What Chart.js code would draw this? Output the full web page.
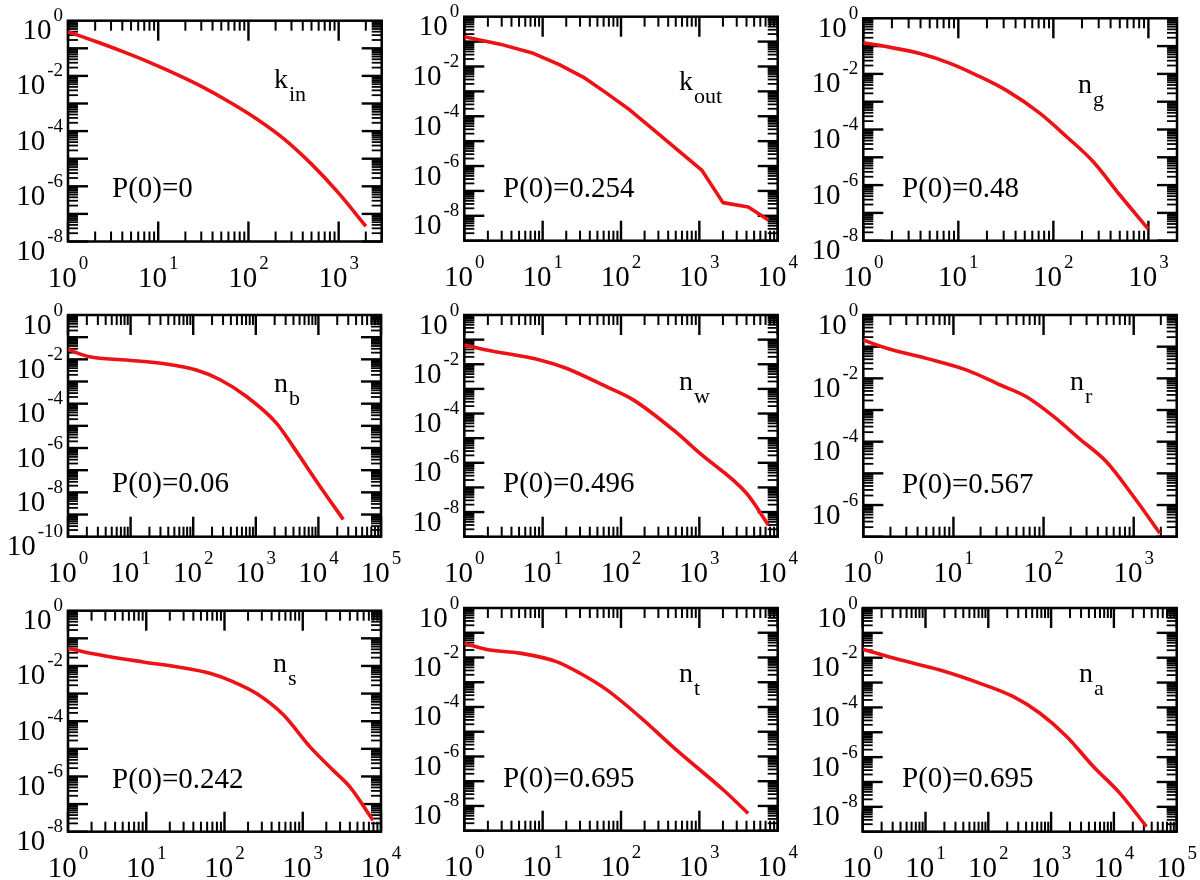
<!DOCTYPE html>
<html>
<head>
<meta charset="utf-8">
<script src="https://cdn.jsdelivr.net/npm/chart.js@4.4.1/dist/chart.umd.min.js"></script>
<style>
  html, body { margin: 0; padding: 0; background: #fff; }
  #wrap { position: relative; width: 1200px; height: 880px; overflow: hidden; }
  #wrap canvas { position: absolute; left: 0; top: 0; }
</style>
</head>
<body>
<div id="wrap"></div>
<script>
// distributions, one x/y pair per panel
const kinX = [1, 2, 4, 8, 16, 32, 63, 126, 251, 501, 1000, 2000];
const kinY = [0.398, 0.18, 0.0774, 0.0311, 0.0114, 3.78e-3, 1.09e-3, 2.65e-4, 5.05e-5, 6.35e-6, 5.66e-7, 3.57e-8];
const koutX = [1, 2.86, 7.6, 16.6, 34.7, 66, 130, 257, 513, 1072, 2000, 4217, 7586];
const koutY = [0.158, 0.079, 0.0339, 0.0115, 3.39e-3, 8.3e-4, 1.78e-4, 2.95e-5, 4.79e-6, 6.9e-7, 3.39e-8, 2.24e-8, 6.76e-9];
const ngX = [1, 1.62, 3.95, 8.18, 15.5, 32.4, 72.4, 138, 263, 501, 1000];
const ngY = [0.132, 0.1, 0.0537, 0.024, 9.1e-3, 2.5e-3, 3.8e-4, 5.5e-5, 6.9e-6, 4.4e-7, 2.6e-8];
const nbX = [1, 2.2, 8.6, 37, 112, 270, 710, 2150, 4000, 10700, 25000];
const nbY = [0.028, 0.013, 9.3e-3, 6.2e-3, 3.3e-3, 1.2e-3, 2.1e-4, 1.3e-5, 1.1e-6, 1.8e-8, 6e-10];
const nwX = [1, 1.93, 9.2, 20, 66, 145, 470, 1020, 4000, 7600];
const nwY = [0.06, 0.038, 0.015, 6.9e-3, 1.2e-3, 3.5e-4, 2.1e-5, 2.4e-6, 5.8e-8, 3e-9];
const nrX = [1, 1.82, 5.0, 14.1, 33.1, 64.6, 129, 251, 501, 1000, 1950];
const nrY = [0.162, 0.089, 0.0427, 0.0182, 6.17e-3, 2.63e-3, 6.3e-4, 1.23e-4, 2.29e-5, 1.82e-6, 1.29e-7];
const nsX = [1, 1.94, 9.1, 24.6, 65, 128, 257, 565, 1230, 2450, 4000, 7900];
const nsY = [0.044, 0.029, 0.014, 9.3e-3, 5.4e-3, 2.7e-3, 1e-3, 1.7e-4, 1.2e-5, 1.66e-6, 4.2e-7, 2.6e-8];
const ntX = [1, 1.93, 5.1, 15, 30, 66, 174, 513, 2030, 4200];
const ntY = [0.037, 0.021, 0.015, 6.8e-3, 2.3e-3, 4.9e-4, 4e-5, 1.8e-6, 4.4e-8, 5e-9];
const naX = [1, 3.9, 17, 74, 251, 665, 1780, 4700, 12500, 33000];
const naY = [0.022, 8.2e-3, 3.2e-3, 9.3e-4, 2.7e-4, 5.8e-5, 6.6e-6, 4.2e-7, 3.5e-8, 1.6e-9];

const seriesX = [kinX, koutX, ngX, nbX, nwX, nrX, nsX, ntX, naX];
const seriesY = [kinY, koutY, ngY, nbY, nwY, nrY, nsY, ntY, naY];
const labelMain = ['k', 'k', 'n', 'n', 'n', 'n', 'n', 'n', 'n'];
const labelSub = ['in', 'out', 'g', 'b', 'w', 'r', 's', 't', 'a'];
const p0Values = ['0', '0.254', '0.48', '0.06', '0.496', '0.567', '0.242', '0.695', '0.695'];
const xMax = [3000, 1e4, 2000, 1e5, 1e4, 3000, 1e4, 1e4, 1e5];
const yMin = [1e-8, 1e-9, 1e-8, 1e-10, 1e-9, 1e-7, 1e-8, 1e-9, 1e-9];

// layout: plot boxes [left, top, right, bottom] and text anchors in page pixels
const boxes = [
  [68, 20.7, 381.7, 241.5], [464.3, 16.7, 777.7, 240.7], [863.3, 18.3, 1177, 240.7],
  [68, 315, 381, 536.7], [464.3, 315, 777.7, 536.7], [863.3, 315, 1176.7, 536.7],
  [68, 610.7, 381, 831.7], [464.3, 608, 777.7, 830.7], [862.7, 608, 1176.7, 831.7]
];
const namePos = [[274, 88], [679, 90], [1078, 93], [274, 392], [679, 390], [1070, 390], [273, 672], [679, 682], [1079, 682]];
const p0Pos = [[112, 197], [503, 197], [902, 197], [112, 492], [503, 492], [902, 493], [112, 788], [503, 787], [902, 787]];
// k_out has a sharp knee, keep it as straight segments
const smoothLine = [true, false, true, true, true, true, true, true, true];

const SERIF = '"Liberation Serif", "Times New Roman", "DejaVu Serif", serif';
const RED = 'rgb(236, 18, 22)';

function pow10(ctx, x, y, exp, align) {
  ctx.font = '29px ' + SERIF;
  const w1 = ctx.measureText('10').width;
  ctx.font = '19px ' + SERIF;
  const w2 = ctx.measureText(exp).width;
  const total = w1 + 2 + w2;
  const x0 = align === 'center' ? x - total / 2 : x - total;
  ctx.textAlign = 'left';
  ctx.textBaseline = 'alphabetic';
  ctx.font = '29px ' + SERIF;
  ctx.fillText('10', x0, y);
  ctx.font = '19px ' + SERIF;
  ctx.fillText(exp, x0 + w1 + 2, y - 18);
}

function tickLine(ctx, x1, y1, x2, y2) {
  ctx.beginPath();
  ctx.moveTo(x1, y1);
  ctx.lineTo(x2, y2);
  ctx.stroke();
}

function makeAxesPlugin(i) {
  return {
    id: 'gracebox' + i,
    beforeDatasetsDraw(chart) {
      const { ctx, chartArea: a, scales: { x, y } } = chart;
      ctx.save();
      ctx.strokeStyle = '#000';
      ctx.lineCap = 'butt';
      for (let e = 0; e <= Math.ceil(Math.log10(x.max)); e++) {
        for (let m = 1; m <= 9; m++) {
          const v = m * Math.pow(10, e);
          if (v > x.max * 1.001) continue;
          const px = x.getPixelForValue(v);
          const len = m === 1 ? 20 : 10;
          ctx.lineWidth = m === 1 ? 2.4 : 2;
          tickLine(ctx, px, a.bottom, px, a.bottom - len);
          tickLine(ctx, px, a.top, px, a.top + len);
        }
      }
      for (let e = Math.floor(Math.log10(y.min)); e < 0; e++) {
        for (let m = 1; m <= 9; m++) {
          const v = m * Math.pow(10, e);
          if (v < y.min * 0.999) continue;
          const py = y.getPixelForValue(v);
          const len = m === 1 ? 20 : 10;
          ctx.lineWidth = m === 1 ? 2.4 : 1.8;
          tickLine(ctx, a.left, py, a.left + len, py);
          tickLine(ctx, a.right, py, a.right - len, py);
        }
      }
      ctx.lineWidth = 2.5;
      ctx.strokeRect(a.left, a.top, a.right - a.left, a.bottom - a.top);
      ctx.restore();
    },
    afterDraw(chart) {
      const { ctx, chartArea: a, scales: { x, y } } = chart;
      ctx.save();
      ctx.fillStyle = '#000';
      for (let e = 0; Math.pow(10, e) <= x.max * 1.001; e++) {
        pow10(ctx, x.getPixelForValue(Math.pow(10, e)), a.bottom + 45, String(e), 'center');
      }
      for (let e = 0; Math.pow(10, e) >= y.min * 0.999; e -= 2) {
        pow10(ctx, a.left - 5, y.getPixelForValue(Math.pow(10, e)) + 18.5, e === 0 ? '0' : '-' + (-e), 'right');
      }
      // panel name with subscript
      ctx.textAlign = 'left';
      ctx.font = '28px ' + SERIF;
      const [nx, ny] = namePos[i];
      ctx.fillText(labelMain[i], nx, ny);
      const wm = ctx.measureText(labelMain[i]).width;
      ctx.font = '22px ' + SERIF;
      ctx.fillText(labelSub[i], nx + wm + 1, ny + 13);
      ctx.font = '29px ' + SERIF;
      ctx.fillText('P(0)=' + p0Values[i], p0Pos[i][0], p0Pos[i][1]);
      ctx.restore();
    }
  };
}

const wrap = document.getElementById('wrap');
for (let i = 0; i < 9; i++) {
  const cv = document.createElement('canvas');
  cv.width = 1200;
  cv.height = 880;
  cv.style.width = '1200px';
  cv.style.height = '880px';
  wrap.appendChild(cv);
  const b = boxes[i];
  new Chart(cv, {
    type: 'scatter',
    data: {
      datasets: [{
        data: seriesX[i].map((v, k) => ({ x: v, y: seriesY[i][k] })),
        showLine: true,
        borderColor: RED,
        borderWidth: 3.6,
        borderJoinStyle: 'round',
        pointRadius: 0,
        cubicInterpolationMode: smoothLine[i] ? 'monotone' : 'default',
        tension: 0,
        fill: false
      }]
    },
    options: {
      responsive: false,
      animation: false,
      devicePixelRatio: 1,
      layout: { padding: { left: b[0], top: b[1], right: 1200 - b[2], bottom: 880 - b[3] } },
      scales: {
        x: { type: 'logarithmic', min: 1, max: xMax[i], display: false },
        y: { type: 'logarithmic', min: yMin[i], max: 1, display: false }
      },
      plugins: { legend: { display: false }, tooltip: { enabled: false } }
    },
    plugins: [makeAxesPlugin(i)]
  });
}
</script>
</body>
</html>
